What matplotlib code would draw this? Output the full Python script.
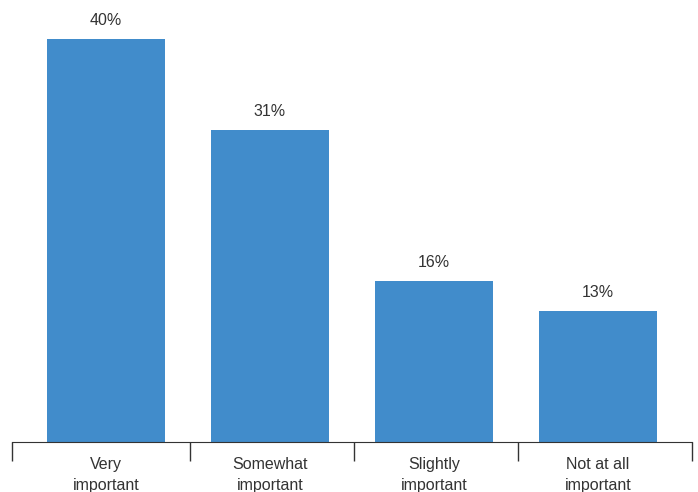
import matplotlib.pyplot as plt
import numpy as np

categories = ['Very\nimportant', 'Somewhat\nimportant', 'Slightly\nimportant', 'Not at all\nimportant']
values = [40, 31, 16, 13]

plt.rcParams['font.family'] = ['Liberation Sans', 'DejaVu Sans']

fig = plt.figure(figsize=(6.98, 4.92), dpi=100)
ax = fig.add_axes([12 / 698, 50 / 492, 680 / 698, 442 / 492])

x = np.arange(len(categories))
bars = ax.bar(x, values, width=0.72, color='#418ccb')

for xi, v in zip(x, values):
    ax.annotate(f'{v}%', (xi, v), xytext=(0, 8), textcoords='offset points',
                ha='center', va='bottom', fontsize=11.5, color='#333333')

ax.set_xlim(-0.573, len(categories) - 1 + 0.573)
ax.set_ylim(0, 43.87)

# category labels centred on bars, tick marks between groups
ax.set_xticks(x)
ax.set_xticklabels(categories, fontsize=11.5, color='#333333', linespacing=1.5)
ax.tick_params(axis='x', which='major', length=0, pad=11)
ax.set_xticks([-0.573, 0.51, 1.51, 2.51, 3.573], minor=True)
ax.tick_params(axis='x', which='minor', length=14, width=1, color='#333333')

ax.set_yticks([])
for side in ['top', 'right', 'left']:
    ax.spines[side].set_visible(False)
ax.spines['bottom'].set_color('#333333')

fig.savefig('out.png', dpi=100)
